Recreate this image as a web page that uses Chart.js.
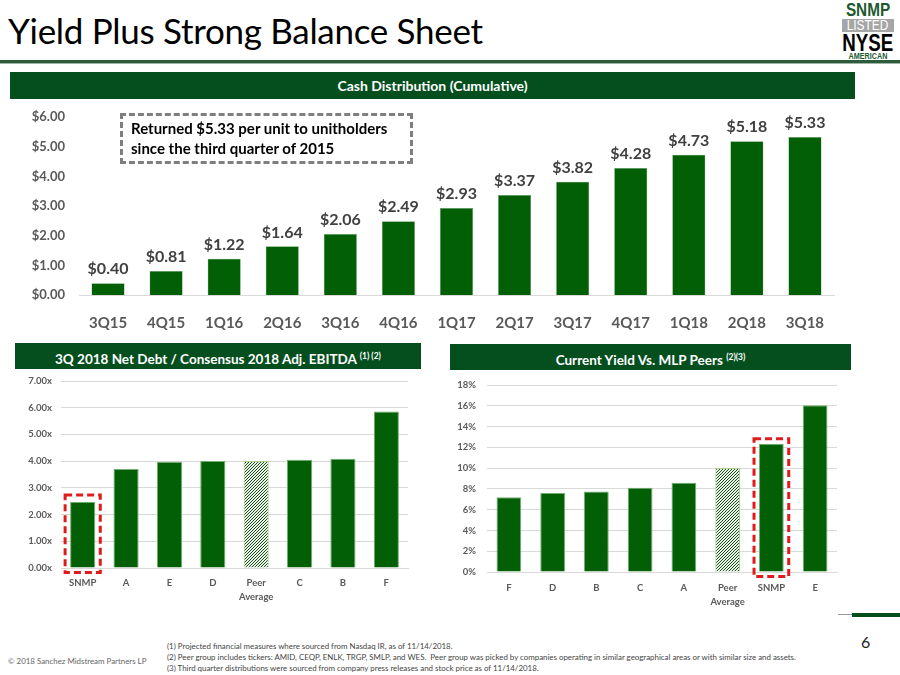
<!DOCTYPE html>
<html>
<head>
<meta charset="utf-8">
<script src="https://cdn.jsdelivr.net/npm/chart.js@4"></script>
<style>
  html, body { margin: 0; padding: 0; background: #fff; }
  body { width: 900px; height: 675px; position: relative; overflow: hidden; font-family: Lato, "Open Sans", sans-serif; }
  .abs { position: absolute; }
  .title { left: 8px; top: 9px; font-size: 35px; color: #000; white-space: nowrap; letter-spacing: -0.3px; }
  .rule { left: 0; top: 60px; width: 900px; height: 3px; background: #2e5b3b; }
  .rule2 { left: 0; top: 63px; width: 900px; height: 1px; background: #9fb5a6; }
  .bar { background: #054f1f; color: #fff; font-weight: bold; font-size: 14px; text-align: center; white-space: nowrap; }
  .bar sup { font-size: 8.5px; vertical-align: 5px; }
  .box { left: 120px; top: 113px; width: 279px; height: 43px; border: 3px dashed #7f7f7f; font-weight: bold; font-size: 15px; line-height: 20px; padding: 2px 0 0 8px; box-sizing: content-box; color: #000; white-space: nowrap; }
  .chartbox { position: absolute; }
  .foot { font-size: 7.9px; color: #444; white-space: nowrap; }
  .logo { left: 842px; top: 3px; width: 52px; text-align: center; font-family: "Liberation Sans", Arial, sans-serif; font-weight: bold; white-space: nowrap; }
  .logo span { display: inline-block; margin: 0 -20px; }
</style>
</head>
<body>
<div class="abs title">Yield Plus Strong Balance Sheet</div>
<div class="abs rule"></div>
<div class="abs rule2"></div>

<div class="abs logo">
  <div style="color:#1d5a2e;font-size:18px;line-height:15px;"><span style="transform:scaleX(0.85);">SNMP</span></div>
  <div style="background:#a6a6a6;color:#fff;font-size:14px;line-height:13px;font-weight:normal;margin-top:1px;"><span style="transform:scaleX(0.85);">LISTED</span></div>
  <div style="color:#000;font-size:24px;line-height:19px;margin-top:1px;"><span style="transform:scaleX(0.78);">NYSE</span></div>
  <div style="color:#1d5a2e;font-size:8.5px;line-height:8px;"><span style="transform:scaleX(0.85);">AMERICAN</span></div>
</div>

<div class="abs bar" style="left:10px;top:72px;width:845px;height:27px;line-height:27px;">Cash Distribution (Cumulative)</div>
<div class="chartbox" style="left:20px;top:100px;width:830px;height:240px;"><canvas id="cashChart"></canvas></div>
<div class="abs box">Returned $5.33 per unit to unitholders<br>since the third quarter of 2015</div>

<div class="abs bar" style="left:15px;top:343px;width:406px;height:26px;line-height:27px;font-size:13.5px;">3Q 2018 Net Debt / Consensus 2018 Adj. EBITDA <sup>(1) (2)</sup></div>
<div class="chartbox" style="left:15px;top:372px;width:410px;height:235px;"><canvas id="debtChart"></canvas></div>

<div class="abs bar" style="left:450px;top:344px;width:401px;height:26px;line-height:27px;font-size:13.5px;">Current Yield Vs. MLP Peers <sup>(2)(3)</sup></div>
<div class="chartbox" style="left:445px;top:372px;width:410px;height:235px;"><canvas id="yieldChart"></canvas></div>

<div class="abs" style="left:838px;top:614px;width:14px;height:1px;background:#9a9a9a;"></div>
<div class="abs" style="left:852px;top:613px;width:48px;height:4px;background:#054f1f;"></div>
<div class="abs" style="left:861px;top:632px;font-size:16px;color:#222;">6</div>

<div class="abs foot" style="left:8px;top:656px;color:#666;">© 2018 Sanchez Midstream Partners LP</div>
<div class="abs foot" style="left:167px;top:641px;">(1) Projected financial measures where sourced from Nasdaq IR, as of 11/14/2018.</div>
<div class="abs foot" style="left:167px;top:652px;">(2) Peer group includes tickers: AMID, CEQP, ENLK, TRGP, SMLP, and WES.&nbsp; Peer group was picked by companies operating in similar geographical areas or with similar size and assets.</div>
<div class="abs foot" style="left:167px;top:663px;">(3) Third quarter distributions were sourced from company press releases and stock price as of 11/14/2018.</div>

<script>
// Data
const quarters = ["3Q15", "4Q15", "1Q16", "2Q16", "3Q16", "4Q16", "1Q17", "2Q17", "3Q17", "4Q17", "1Q18", "2Q18", "3Q18"];
const cumulativeDist = [0.40, 0.81, 1.22, 1.64, 2.06, 2.49, 2.93, 3.37, 3.82, 4.28, 4.73, 5.18, 5.33];

const debtLabels = ["SNMP", "A", "E", "D", ["Peer", "Average"], "C", "B", "F"];
const debtValues = [2.47, 3.71, 3.98, 4.01, 4.01, 4.05, 4.09, 5.86];

const yieldLabels = ["F", "D", "B", "C", "A", ["Peer", "Average"], "SNMP", "E"];
const yieldValues = [7.2, 7.6, 7.75, 8.1, 8.6, 10.0, 12.35, 16.05];

const GREEN = "#035f05";
const EDGE = "#6fae6f";
const TICK_COLOR = "#595959";
const GRID = "#d9d9d9";

Chart.defaults.font.family = "Lato, 'Open Sans', sans-serif";
Chart.defaults.animation = false;

// dense "////" hatch for the peer average bar
function hatch() {
  const c = document.createElement("canvas");
  c.width = 3; c.height = 3;
  const g = c.getContext("2d");
  g.fillStyle = "#e9f2e6";
  g.fillRect(0, 0, 3, 3);
  g.fillStyle = "#1b4f1b";
  g.fillRect(2, 0, 1, 1);
  g.fillRect(1, 1, 1, 1);
  g.fillRect(0, 2, 1, 1);
  return g.createPattern(c, "repeat");
}

// fixed y-axis width; let layout.padding decide the top edge
function yFit(width) {
  return (s) => {
    s.width = width;
    s.paddingTop = 0;
    s.paddingBottom = 0;
  };
}

// red dashed outline around one bar
const highlightBox = {
  id: "highlightBox",
  afterDatasetsDraw(chart, args, opts) {
    if (opts.index == null) return;
    const el = chart.getDatasetMeta(0).data[opts.index];
    const ctx = chart.ctx;
    const half = el.width / 2 + 5;
    ctx.save();
    ctx.strokeStyle = "#e01b1b";
    ctx.lineWidth = 3;
    ctx.setLineDash([7, 4]);
    ctx.strokeRect(el.x - half, el.y - opts.top, half * 2, el.base - el.y + opts.top + 5);
    ctx.restore();
  },
};

// value labels above bars
const valueLabels = {
  id: "valueLabels",
  afterDatasetsDraw(chart, args, opts) {
    if (!opts.show) return;
    const ctx = chart.ctx;
    const ds = chart.data.datasets[0];
    ctx.save();
    ctx.font = "bold 16px Lato, sans-serif";
    ctx.fillStyle = "#404040";
    ctx.textAlign = "center";
    ctx.textBaseline = "bottom";
    chart.getDatasetMeta(0).data.forEach((bar, i) => {
      ctx.fillText("$" + ds.data[i].toFixed(2), bar.x, bar.y - 6);
    });
    ctx.restore();
  },
};
Chart.register(highlightBox, valueLabels);

// Cumulative cash distribution
new Chart(document.getElementById("cashChart"), {
  type: "bar",
  data: {
    labels: quarters,
    datasets: [{
      data: cumulativeDist,
      backgroundColor: GREEN,
      borderColor: EDGE,
      borderWidth: 0.5,
      categoryPercentage: 1,
      barPercentage: 0.57,
    }],
  },
  options: {
    responsive: true,
    maintainAspectRatio: false,
    layout: { padding: { top: 17, right: 16, left: 0, bottom: 0 } },
    plugins: { legend: { display: false }, tooltip: { enabled: false }, valueLabels: { show: true } },
    scales: {
      y: {
        min: 0, max: 6,
        ticks: { stepSize: 1, padding: 14, color: TICK_COLOR, font: { size: 13, weight: "bold" }, callback: (v) => "$" + v.toFixed(2) },
        grid: { display: false, drawTicks: false },
        border: { display: false },
        afterFit: yFit(59),
      },
      x: {
        ticks: { padding: 19, color: TICK_COLOR, font: { size: 15, weight: "bold" } },
        grid: { display: false, drawTicks: false },
        border: { display: true, color: GRID, width: 1 },
        afterFit: (s) => { s.height = 45; },
      },
    },
  },
});

// Net debt / EBITDA
new Chart(document.getElementById("debtChart"), {
  type: "bar",
  data: {
    labels: debtLabels,
    datasets: [{
      data: debtValues,
      backgroundColor: debtValues.map((v, i) => (i === 4 ? hatch() : GREEN)),
      borderColor: debtValues.map((v, i) => (i === 4 ? "#a9d08e" : EDGE)),
      borderWidth: 1,
      categoryPercentage: 1,
      barPercentage: 0.58,
    }],
  },
  options: {
    responsive: true,
    maintainAspectRatio: false,
    layout: { padding: { top: 9, right: 17, left: 0, bottom: 0 } },
    plugins: { legend: { display: false }, tooltip: { enabled: false }, highlightBox: { index: 0, top: 7 } },
    scales: {
      y: {
        min: 0, max: 7,
        ticks: { stepSize: 1, padding: 9, color: TICK_COLOR, font: { size: 9.5, weight: "bold" }, callback: (v) => v.toFixed(2) + "x" },
        grid: { color: GRID, drawTicks: false },
        border: { display: false },
        afterFit: yFit(46),
      },
      x: {
        ticks: { padding: 8, color: TICK_COLOR, font: { size: 9.5, weight: "bold", lineHeight: 1.5 } },
        grid: { display: false, drawTicks: false },
        border: { display: true, color: GRID },
        afterFit: (s) => { s.height = 39; },
      },
    },
  },
});

// Current yield vs peers
new Chart(document.getElementById("yieldChart"), {
  type: "bar",
  data: {
    labels: yieldLabels,
    datasets: [{
      data: yieldValues,
      backgroundColor: yieldValues.map((v, i) => (i === 5 ? hatch() : GREEN)),
      borderColor: yieldValues.map((v, i) => (i === 5 ? "#a9d08e" : EDGE)),
      borderWidth: 1,
      categoryPercentage: 1,
      barPercentage: 0.565,
    }],
  },
  options: {
    responsive: true,
    maintainAspectRatio: false,
    layout: { padding: { top: 13, right: 18, left: 0, bottom: 0 } },
    plugins: { legend: { display: false }, tooltip: { enabled: false }, highlightBox: { index: 6, top: 5 } },
    scales: {
      y: {
        min: 0, max: 18,
        ticks: { stepSize: 2, padding: 11, color: TICK_COLOR, font: { size: 9.5, weight: "bold" }, callback: (v) => v + "%" },
        grid: { color: GRID, drawTicks: false },
        border: { display: false },
        afterFit: yFit(42),
      },
      x: {
        ticks: { padding: 9, color: TICK_COLOR, font: { size: 9.5, weight: "bold", lineHeight: 1.5 } },
        grid: { display: false, drawTicks: false },
        border: { display: true, color: GRID },
        afterFit: (s) => { s.height = 35; },
      },
    },
  },
});
</script>
</body>
</html>
